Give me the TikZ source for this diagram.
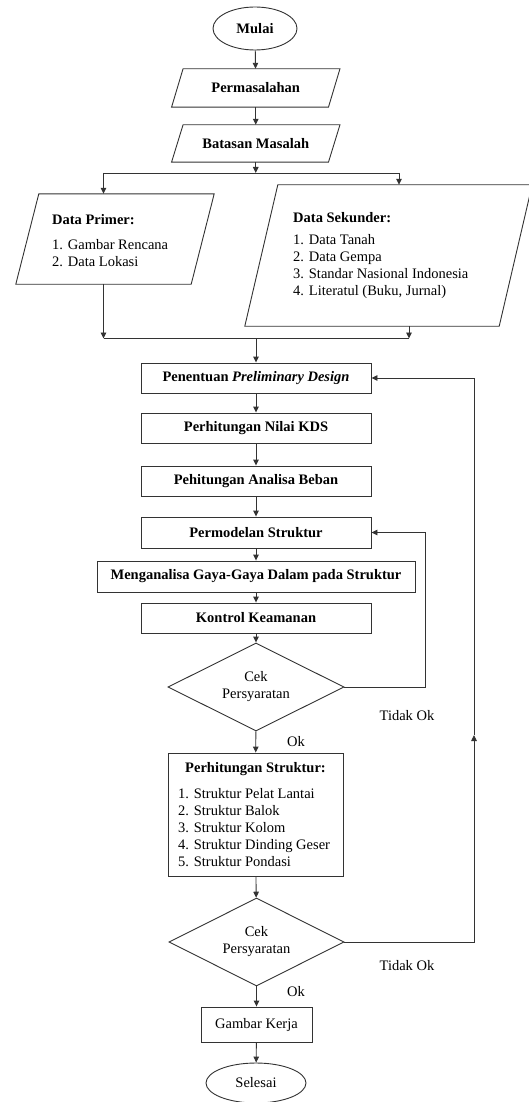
\documentclass[tikz,border=0pt]{standalone}
\usepackage{fontspec}
\setmainfont{Liberation Serif}
\usetikzlibrary{arrows.meta,shapes.geometric}
\newcommand{\fs}{\fontsize{14.5}{17}\selectfont}
\newcommand{\paragram}[2]{\draw[line] ([xshift=#2]#1.north west) -- ([xshift=#2]#1.north east) -- ([xshift=-#2]#1.south east) -- ([xshift=-#2]#1.south west) -- cycle;}
\tikzset{
  line/.style={draw=black!80, line width=0.9pt},
  arr/.style={line, -{Triangle[length=6pt,width=5.5pt]}},
  procbox/.style={rectangle, line, minimum width=230, minimum height=30, inner sep=0, font=\fs\bfseries},
  iobox/.style={rectangle, inner sep=0, font=\fs\bfseries},
  term/.style={ellipse, line, inner sep=0, font=\fs},
  decis/.style={diamond, aspect=2, line, inner sep=0, minimum width=176, minimum height=88, align=center, font=\fs},
  txt/.style={inner sep=0, font=\fs, align=left},
  lbl/.style={inner sep=0, font=\fs}
}
\begin{document}
\begin{tikzpicture}[x=1pt,y=1pt]
\useasboundingbox (0,0) rectangle (529,-1102);
\fill[white] (0,0) rectangle (529,-1102);

% terminal start
\node[term, minimum width=84, minimum height=43, font=\fs\bfseries] (mulai) at (255,-28.5) {Mulai};

% io boxes
\node[iobox, minimum width=156.5, minimum height=38] (perm) at (255.75,-88) {Permasalahan};
\paragram{perm}{5.75}
\node[iobox, minimum width=156.5, minimum height=37] (batas) at (255.75,-143.5) {Batasan Masalah};
\paragram{batas}{5.75}

\node[iobox, minimum width=175, minimum height=90] (dp) at (115,-239) {};
\paragram{dp}{11.5}
\node[txt, anchor=west, font=\fs\bfseries] (dpt) at (52,-220) {Data Primer:};
\node[txt, anchor=west] (dpl) at (52,-253.5) {1. Gambar Rencana\\2. Data Lokasi};

\node[iobox, minimum width=254, minimum height=141] (ds) at (388.5,-255.5) {};
\paragram{ds}{16.5}
\node[txt, anchor=west, font=\fs\bfseries] (dst) at (293,-218) {Data Sekunder:};
\node[txt, anchor=west] (dsl) at (293,-266.5) {1. Data Tanah\\2. Data Gempa\\3. Standar Nasional Indonesia\\4. Literatul (Buku, Jurnal)};

% process boxes
\node[procbox] (pen) at (256,-378) {Penentuan \textit{Preliminary Design}};
\node[procbox] (kds) at (256,-428) {Perhitungan Nilai KDS};
\node[procbox] (beban) at (256,-481) {Pehitungan Analisa Beban};
\node[procbox, minimum height=31] (pmod) at (256,-532.5) {Permodelan Struktur};
\node[procbox, minimum width=318, minimum height=31] (gaya) at (256,-576.5) {Menganalisa Gaya-Gaya Dalam pada Struktur};
\node[procbox] (kontrol) at (256,-618) {Kontrol Keamanan};

\node[decis] (d1) at (256,-687) {Cek\\Persyaratan};

\node[rectangle, line, minimum width=175, minimum height=123, inner sep=0] (ps) at (255.5,-814.5) {};
\node[lbl, font=\fs\bfseries] (pst) at (255.5,-769) {Perhitungan Struktur:};
\node[txt, anchor=west] (psl) at (178,-828) {1. Struktur Pelat Lantai\\2. Struktur Balok\\3. Struktur Kolom\\4. Struktur Dinding Geser\\5. Struktur Pondasi};

\node[decis, minimum width=175] (d2) at (256.5,-942) {Cek\\Persyaratan};

\node[rectangle, line, minimum width=111, minimum height=35, inner sep=0, font=\fs] (gk) at (256.5,-1024.5) {Gambar Kerja};
\node[term, minimum width=100, minimum height=40] (selesai) at (256,-1083) {Selesai};

% labels
\node[lbl] (tok1) at (407,-716) {Tidak Ok};
\node[lbl] (ok1) at (296,-742) {Ok};
\node[lbl] (tok2) at (407,-966) {Tidak Ok};
\node[lbl] (ok2) at (296,-992) {Ok};

% coordinates
\coordinate (split) at (255.75,-173);
\coordinate (sl) at (103.5,-173);
\coordinate (sr) at (399,-173);
\coordinate (ml) at (103.5,-338.5);
\coordinate (mr) at (409,-338.5);
\coordinate (mc) at (256,-338.5);
\coordinate (l1) at (425,-532.5);
\coordinate (l2m) at (474,-735);
\coordinate (l2) at (474,-378);

% connectors
\draw[arr] (mulai) -- (perm);
\draw[arr] (perm) -- (batas);
\draw[arr] (batas) -- (split);
\draw[line] (sl) -- (sr);
\draw[arr] (sl) -- (sl |- dp.north);
\draw[arr] (sr) -- (sr |- ds.north);
\draw[arr] (dp.south -| ml) -- (ml);
\draw[arr] (ds.south -| mr) -- (mr);
\draw[line] (ml) -- (mr);
\draw[arr] (mc) -- (pen);
\draw[arr] (pen) -- (kds);
\draw[arr] (kds) -- (beban);
\draw[arr] (beban) -- (pmod);
\draw[arr] (pmod) -- (gaya);
\draw[arr] (gaya) -- (kontrol);
\draw[arr] (kontrol) -- (d1);
\draw[arr] (d1.east) -| (l1) -- (pmod.east);
\draw[arr] (d1) -- (ps);
\draw[arr] (ps) -- (d2);
\draw[arr] (d2.east) -| (l2m);
\draw[arr] (l2m) -- (l2) -- (pen.east);
\draw[arr] (d2) -- (gk);
\draw[arr] (gk) -- (selesai);
\end{tikzpicture}
\end{document}
